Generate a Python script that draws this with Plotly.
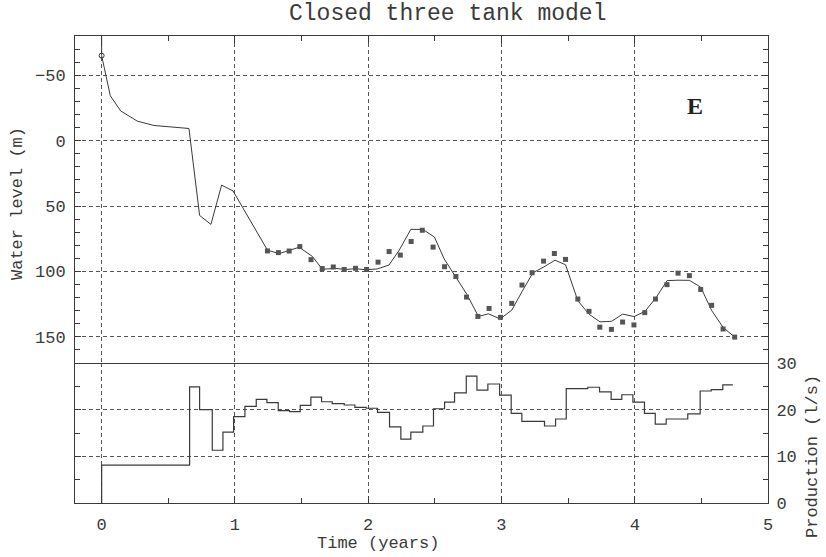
import plotly.graph_objects as go

# ---------------- data ----------------
# initial (start) observation
start_t = [0.0]
start_level = [-65.0]

# observed water level (m), monthly
obs_t = [1.244, 1.326, 1.407, 1.487, 1.571, 1.655, 1.738, 1.82, 1.905, 1.988,
         2.074, 2.157, 2.241, 2.322, 2.406, 2.487, 2.573, 2.658, 2.738, 2.823,
         2.907, 2.993, 3.077, 3.154, 3.23, 3.316, 3.397, 3.481, 3.573, 3.657,
         3.738, 3.825, 3.909, 3.994, 4.075, 4.156, 4.242, 4.325, 4.41, 4.495,
         4.577, 4.663, 4.75]
obs_level = [84.3, 85.6, 84.4, 81.0, 91.0, 97.8, 96.6, 98.5, 97.6, 98.5,
             92.9, 84.8, 87.5, 77.1, 68.5, 81.4, 96.4, 103.9, 119.6, 134.4,
             128.3, 135.1, 124.4, 110.4, 101.0, 92.1, 86.3, 90.8, 121.1, 130.5,
             142.6, 144.3, 138.7, 140.9, 131.5, 121.1, 110.1, 101.3, 103.2, 113.8,
             125.9, 144.0, 150.2]

# simulated water level (m) -- closed three tank model
sim_t = [0.0, 0.0, 0.065, 0.143, 0.268, 0.392, 0.655, 0.735, 0.82, 0.90, 0.986,
         1.073, 1.158, 1.244, 1.331, 1.407, 1.482, 1.581, 1.656, 1.755, 1.83,
         1.905, 1.98, 2.068, 2.156, 2.233, 2.32, 2.41, 2.497, 2.57, 2.655,
         2.741, 2.827, 2.902, 2.99, 3.078, 3.154, 3.236, 3.319, 3.402, 3.481,
         3.573, 3.657, 3.739, 3.827, 3.91, 3.995, 4.075, 4.157, 4.243, 4.325,
         4.41, 4.495, 4.578, 4.664, 4.75]
sim_level = [-100.0, -65.0, -34.3, -22.7, -14.9, -11.6, -9.3, 57.2, 64.0, 34.0, 38.5,
             54.0, 69.5, 83.7, 86.4, 83.9, 81.5, 88.5, 98.3, 97.7, 98.5,
             97.9, 98.7, 98.1, 95.1, 83.7, 67.8, 67.9, 73.7, 90.4, 103.4,
             117.6, 134.4, 132.4, 136.3, 129.5, 115.5, 101.0, 96.5, 91.4, 94.9,
             122.4, 132.7, 138.5, 138.1, 132.6, 134.5, 130.7, 120.5, 107.0, 106.7,
             106.8, 112.0, 130.0, 142.9, 150.2]

# production (l/s), piecewise constant between edges
prod_edges = [0.0, 0.66, 0.735, 0.83, 0.91, 0.99, 1.075, 1.16, 1.24, 1.325,
              1.41, 1.49, 1.57, 1.65, 1.73, 1.82, 1.90, 1.985, 2.07, 2.16,
              2.245, 2.32, 2.41, 2.49, 2.573, 2.648, 2.736, 2.816, 2.898, 2.986,
              3.073, 3.153, 3.236, 3.323, 3.406, 3.486, 3.57, 3.648, 3.736, 3.823,
              3.903, 3.986, 4.073, 4.154, 4.236, 4.32, 4.398, 4.491, 4.574, 4.661,
              4.736]
prod_rate = [8.1, 24.9, 20.0, 11.3, 15.2, 18.5, 20.7, 22.2, 21.5, 19.8,
             19.6, 20.9, 22.7, 21.7, 21.3, 21.0, 20.5, 20.3, 19.4, 16.3,
             13.7, 15.2, 16.5, 20.2, 21.6, 23.6, 27.2, 24.2, 25.5, 23.1,
             19.2, 17.5, 17.5, 16.5, 18.0, 24.5, 24.5, 24.8, 23.8, 22.2,
             23.2, 21.6, 19.2, 16.9, 18.0, 18.0, 19.1, 24.0, 24.3, 25.3]

x_ticks = [0, 1, 2, 3, 4, 5]
level_ticks = [-50, 0, 50, 100, 150]
prod_ticks = [0, 10, 20, 30]

# ---------------- figure ----------------
FONT = "Liberation Mono"
INK = "#3a3a3a"
GRID = "#555555"

step_x = [prod_edges[0]] + prod_edges
step_y = [0.0] + prod_rate + [prod_rate[-1]]

fig = go.Figure()
fig.add_trace(go.Scatter(x=sim_t, y=sim_level, mode="lines",
                         line=dict(color=INK, width=1), xaxis="x2", yaxis="y2",
                         showlegend=False, hoverinfo="skip"))
fig.add_trace(go.Scatter(x=obs_t, y=obs_level, mode="markers",
                         marker=dict(symbol="square", size=5, color="#555555",
                                     line=dict(width=0)),
                         xaxis="x2", yaxis="y2", showlegend=False))
fig.add_trace(go.Scatter(x=start_t, y=start_level, mode="markers",
                         marker=dict(symbol="circle-open", size=5, color=INK,
                                     line=dict(width=1)),
                         xaxis="x2", yaxis="y2", showlegend=False))
fig.add_trace(go.Scatter(x=step_x, y=step_y, mode="lines",
                         line=dict(color=INK, width=1.2, shape="hv"),
                         xaxis="x", yaxis="y", showlegend=False))

split = 140.0 / 467.0
tickfont = dict(family=FONT, size=17, color=INK)

common_x = dict(range=[-0.2, 5], tickvals=x_ticks, showgrid=True,
                gridcolor=GRID, griddash="4px,3px", gridwidth=1,
                zeroline=False, showline=True, linecolor=INK, linewidth=1,
                ticks="inside", ticklen=7, tickcolor=INK,
                minor=dict(dtick=0.5, ticks="inside", ticklen=5,
                           tickcolor=INK, showgrid=False))

fig.update_layout(
    width=826, height=557,
    margin=dict(l=75, r=58, t=36, b=54),
    paper_bgcolor="white", plot_bgcolor="white",
    font=dict(family=FONT, color=INK),
    xaxis=dict(common_x, anchor="y", domain=[0, 1], showticklabels=True,
               tickfont=tickfont, ticklabelstandoff=6, mirror=False),
    xaxis2=dict(common_x, anchor="y2", domain=[0, 1], matches="x",
                showticklabels=False, side="top", mirror=True),
    yaxis=dict(domain=[0, split], range=[0, 30], tickvals=prod_ticks,
               side="right", anchor="x", showgrid=True, gridcolor=GRID,
               griddash="4px,3px", zeroline=False, showline=True,
               linecolor=INK, mirror="ticks", ticks="inside", ticklen=6,
               tickcolor=INK, tickfont=tickfont, ticklabelstandoff=4,
               minor=dict(dtick=5, ticks="inside", ticklen=5, tickcolor=INK,
                          showgrid=False)),
    yaxis2=dict(domain=[split, 1], range=[170, -80], tickvals=level_ticks,
                side="left", anchor="x2", showgrid=True, gridcolor=GRID,
                griddash="4px,3px", zeroline=False, showline=True,
                linecolor=INK, mirror="ticks", ticks="inside", ticklen=6,
                tickcolor=INK, tickfont=tickfont, ticklabelstandoff=5,
                minor=dict(dtick=10, ticks="inside", ticklen=5, tickcolor=INK,
                           showgrid=False)),
)

ann = [
    dict(text="Closed three tank model", x=447, y=14, size=23, angle=0),
    dict(text="Water level (m)", x=17, y=204, size=17, angle=-90),
    dict(text="Production (l/s)", x=812, y=457, size=17, angle=-90),
    dict(text="Time (years)", x=378, y=543, size=17, angle=0),
]
for a in ann:
    fig.add_annotation(text=a["text"], xref="paper", yref="paper",
                       x=(a["x"] - 75) / 693.0, y=(557 - 54 - a["y"]) / 467.0,
                       xanchor="center", yanchor="middle", showarrow=False,
                       textangle=a["angle"],
                       font=dict(family=FONT, size=a["size"], color=INK))
fig.add_annotation(text="<b>E</b>", xref="paper", yref="paper",
                   x=(695 - 75) / 693.0, y=(557 - 54 - 106) / 467.0,
                   xanchor="center", yanchor="middle", showarrow=False,
                   font=dict(family="Liberation Serif", size=24, color="#222"))

fig.write_html("out.html")
